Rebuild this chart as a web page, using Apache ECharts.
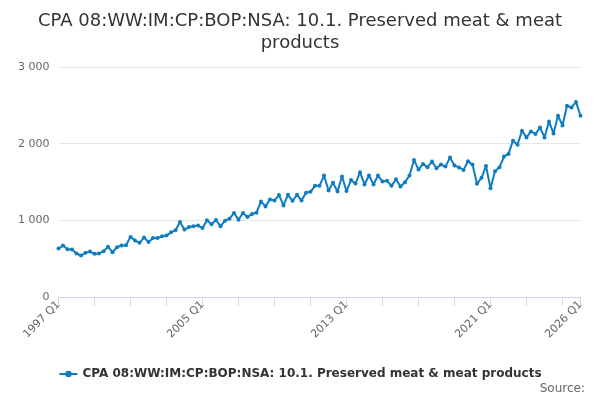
<!DOCTYPE html>
<html>
<head>
<meta charset="utf-8">
<script src="https://cdn.jsdelivr.net/npm/echarts@6/dist/echarts.min.js"></script>
<style>
  html, body { margin: 0; padding: 0; background: #fff; }
  #chart { width: 600px; height: 400px; }
</style>
</head>
<body>
<div id="chart"></div>
<script>
var seriesName = 'CPA 08:WW:IM:CP:BOP:NSA: 10.1. Preserved meat & meat products';

// quarters 1997 Q1 .. 2026 Q1
var startYear = 1997;
var quarters = [];
for (var y = startYear; y <= 2026; y++) {
    for (var q = 1; q <= 4; q++) {
        quarters.push(y + ' Q' + q);
        if (y === 2026) break;
    }
}

var values = [
    632, 671, 623, 619, 567, 541, 576, 593, 563, 567, 597, 654,
    584, 649, 671, 675, 784, 736, 706, 775, 719, 771, 768, 792,
    801, 844, 870, 978, 879, 913, 922, 931, 900, 1000, 948, 1004,
    922, 996, 1022, 1095, 1009, 1095, 1043, 1082, 1100, 1247, 1182, 1273,
    1260, 1329, 1195, 1333, 1255, 1333, 1260, 1359, 1372, 1450, 1450, 1584,
    1390, 1489, 1377, 1571, 1381, 1525, 1480, 1628, 1468, 1584, 1468, 1584,
    1506, 1515, 1450, 1537, 1442, 1498, 1584, 1788, 1662, 1736, 1693, 1766,
    1680, 1727, 1701, 1818, 1714, 1690, 1658, 1770, 1727, 1476, 1554, 1710,
    1420, 1641, 1693, 1831, 1866, 2039, 1987, 2169, 2082, 2160, 2126, 2212,
    2082, 2290, 2134, 2364, 2238, 2494, 2472, 2545, 2364
];

var yTicks = [0, 1000, 2000, 3000];

var lastIdx = quarters.length - 1;
var chart = echarts.init(document.getElementById('chart'));

chart.setOption({
    animation: false,
    title: [{
        text: 'CPA 08:WW:IM:CP:BOP:NSA: 10.1. Preserved meat & meat\nproducts',
        left: 'center',
        top: 5,
        textStyle: {
            fontFamily: 'DejaVu Sans',
            fontSize: 18,
            fontWeight: 'normal',
            color: '#333333',
            lineHeight: 22
        }
    }, {
        text: 'Source:',
        right: 10,
        bottom: 0,
        textStyle: {
            fontFamily: 'DejaVu Sans',
            fontSize: 12,
            fontWeight: 'normal',
            color: '#666666'
        }
    }],
    legend: {
        bottom: 15,
        left: 'center',
        itemWidth: 18,
        itemHeight: 8,
        itemGap: 6,
        textStyle: {
            fontFamily: 'DejaVu Sans',
            fontSize: 12,
            fontWeight: 'bold',
            color: '#333333'
        },
        data: [seriesName]
    },
    grid: {
        left: 58.5,
        right: 19.5,
        top: 67,
        bottom: 103
    },
    xAxis: {
        type: 'category',
        data: quarters,
        boundaryGap: false,
        axisLine: { lineStyle: { color: '#ccd6eb' } },
        axisTick: {
            length: 9,
            lineStyle: { color: '#ccd6eb' },
            interval: function (i) { return i % 8 === 0 || i === lastIdx; }
        },
        axisLabel: {
            rotate: 45,
            margin: 6,
            fontFamily: 'DejaVu Sans',
            fontSize: 11,
            color: '#666666',
            interval: function (i) { return i % 32 === 0 || i === lastIdx; }
        },
        splitLine: { show: false }
    },
    yAxis: {
        type: 'value',
        min: yTicks[0],
        max: yTicks[yTicks.length - 1],
        interval: 1000,
        axisLine: { show: false },
        axisTick: { show: false },
        axisLabel: {
            margin: 9,
            fontFamily: 'DejaVu Sans',
            fontSize: 11,
            color: '#666666',
            formatter: function (v) {
                return String(v).replace(/\B(?=(\d{3})+(?!\d))/g, ' ');
            }
        },
        splitLine: { lineStyle: { color: '#e6e6e6' } }
    },
    series: [{
        name: seriesName,
        type: 'line',
        data: values,
        color: '#0f7cc2',
        symbol: 'circle',
        symbolSize: 4,
        showAllSymbol: true,
        lineStyle: { width: 2 }
    }]
});
</script>
</body>
</html>
